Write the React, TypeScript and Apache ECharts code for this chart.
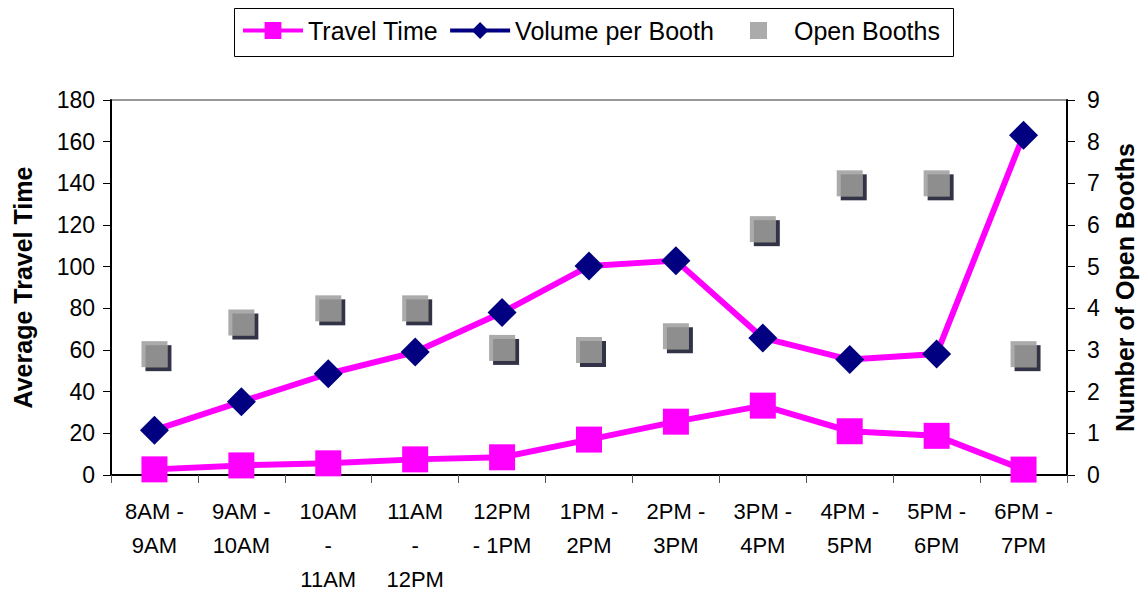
import React, { useEffect, useRef } from 'react';
import * as echarts from 'echarts';

const categories = [
  '8AM -\n9AM',
  '9AM -\n10AM',
  '10AM\n-\n11AM',
  '11AM\n-\n12PM',
  '12PM\n- 1PM',
  '1PM -\n2PM',
  '2PM -\n3PM',
  '3PM -\n4PM',
  '4PM -\n5PM',
  '5PM -\n6PM',
  '6PM -\n7PM',
];
const travelTime = [2.7, 4.6, 5.6, 7.5, 8.5, 17, 25.6, 33.3, 21, 18.8, 2.6];
const volumePerBooth = [21.5, 35.2, 48.6, 59, 78, 100.3, 102.9, 65.8, 55.4, 58.1, 163.1];
const openBooths = [2.9, 3.66, 4.0, 4.0, 3.05, 3.0, 3.33, 5.9, 7.0, 7.0, 2.9];

const leftAxis = { min: 0, max: 180, interval: 20 };
const rightAxis = { min: 0, max: 9, interval: 1 };

const FONT = '"Liberation Sans", Arial, sans-serif';
const MAGENTA = '#FF00FF';
const NAVY = '#000080';
const GRAY = '#969696';

export default function App() {
  const ref = useRef<HTMLDivElement>(null);
  useEffect(() => {
    const chart = echarts.init(ref.current!, null, { renderer: 'svg' });
    chart.setOption({
      animation: false,
      backgroundColor: '#fff',
      textStyle: { fontFamily: FONT, color: '#000' },
      legend: [
        {
          top: 18,
          left: 241,
          padding: 0,
          itemWidth: 60,
          itemHeight: 21,
          itemGap: 10,
          lineStyle: { width: 4 },
          textStyle: { fontSize: 25, color: '#000', fontFamily: FONT },
          data: [
            { name: 'Travel Time' },
            {
              name: 'Volume per Booth',
              itemStyle: { color: NAVY },
              lineStyle: { color: NAVY, width: 4 },
            },
          ],
        },
        {
          top: 18,
          left: 750,
          padding: 0,
          itemWidth: 17,
          itemHeight: 17,
          icon: 'rect',
          textStyle: { fontSize: 25, color: '#000', fontFamily: FONT, padding: [0, 0, 0, 22] },
          data: [
            {
              name: 'Open Booths',
              itemStyle: { shadowColor: 'rgba(0,0,0,0)', shadowOffsetX: 0, shadowOffsetY: 0 },
            },
          ],
        },
      ],
      graphic: [
        {
          type: 'rect',
          shape: { x: 234.5, y: 8.5, width: 719, height: 48 },
          style: { fill: 'none', stroke: '#000', lineWidth: 1 },
          silent: true,
        },
      ],
      grid: {
        left: 111,
        right: 81,
        top: 100,
        bottom: 119,
        show: true,
        borderColor: '#333',
        borderWidth: 1,
      },
      xAxis: {
        type: 'category',
        data: categories,
        boundaryGap: true,
        axisLine: { lineStyle: { color: '#000', width: 2 } },
        axisTick: { show: true, length: 8, lineStyle: { color: '#555', width: 1 } },
        axisLabel: {
          interval: 0,
          fontSize: 22,
          lineHeight: 34,
          margin: 19,
          color: '#000',
          fontFamily: FONT,
        },
        splitLine: { show: false },
      },
      yAxis: [
        {
          type: 'value',
          ...leftAxis,
          position: 'left',
          axisLine: { show: true, lineStyle: { color: '#000', width: 2 } },
          axisTick: { show: true, length: 8, lineStyle: { color: '#000' } },
          axisLabel: { fontSize: 23, margin: 16, color: '#000', fontFamily: FONT },
          splitLine: { show: false },
          name: 'Average Travel Time',
          nameLocation: 'middle',
          nameRotate: 90,
          nameGap: 76,
          nameTextStyle: { fontSize: 25, fontWeight: 'bold', color: '#000', fontFamily: FONT },
        },
        {
          type: 'value',
          ...rightAxis,
          position: 'right',
          axisLine: { show: true, lineStyle: { color: '#000', width: 2 } },
          axisTick: { show: true, length: 8, lineStyle: { color: '#000' } },
          axisLabel: { fontSize: 23, margin: 20, color: '#000', fontFamily: FONT },
          splitLine: { show: false },
          name: 'Number of Open Booths',
          nameLocation: 'middle',
          nameRotate: 90,
          nameGap: 45,
          nameTextStyle: { fontSize: 25, fontWeight: 'bold', color: '#000', fontFamily: FONT },
        },
      ],
      series: [
        {
          name: 'Open Booths',
          type: 'scatter',
          yAxisIndex: 1,
          data: openBooths,
          symbol: 'rect',
          symbolSize: 26,
          itemStyle: {
            color: GRAY,
            shadowColor: '#00001a',
            shadowOffsetX: 4,
            shadowOffsetY: 4,
            shadowBlur: 0,
          },
        },
        {
          name: 'Travel Time',
          type: 'line',
          yAxisIndex: 0,
          data: travelTime,
          symbol: 'rect',
          symbolSize: 26,
          showAllSymbol: true,
          itemStyle: { color: MAGENTA },
          lineStyle: { color: MAGENTA, width: 6 },
        },
        {
          name: 'Volume per Booth',
          type: 'line',
          yAxisIndex: 0,
          data: volumePerBooth,
          symbol: 'diamond',
          symbolSize: 29,
          showAllSymbol: true,
          itemStyle: { color: NAVY },
          lineStyle: { color: MAGENTA, width: 6 },
        },
      ],
    });
    return () => chart.dispose();
  }, []);
  return (
    <div
      ref={ref}
      style={{ position: 'fixed', left: 0, top: 0, width: 1148, height: 596 }}
    />
  );
}
